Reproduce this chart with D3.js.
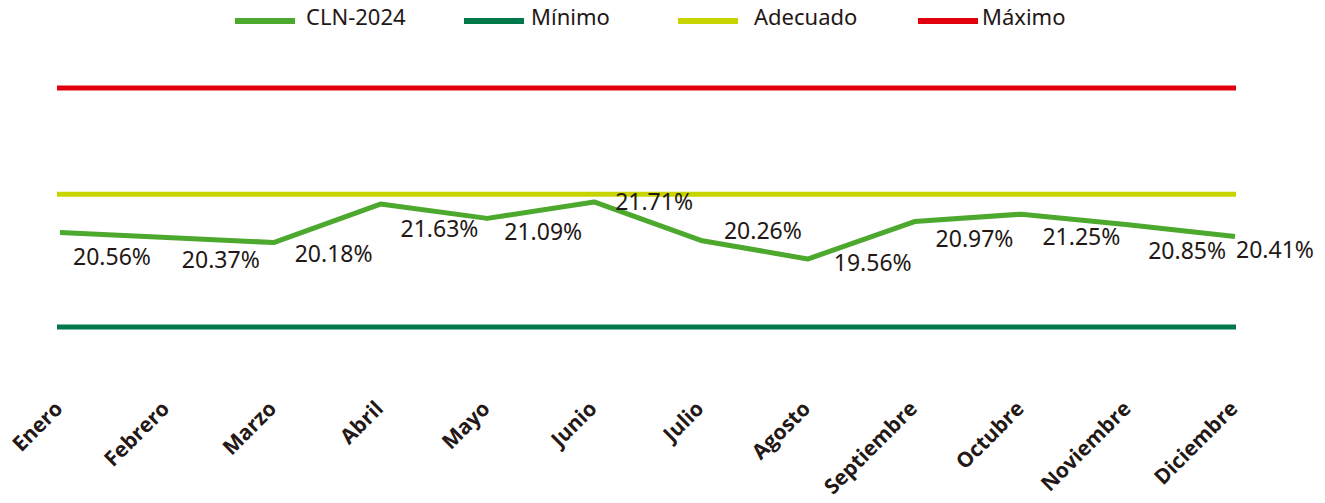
<!DOCTYPE html>
<html>
<head>
<meta charset="utf-8">
<script src="https://cdn.jsdelivr.net/npm/d3@7"></script>
<style>
  body { margin: 0; background: #fff; }
  svg { display: block; }
</style>
</head>
<body>
<script>
// data
var months = ["Enero", "Febrero", "Marzo", "Abril", "Mayo", "Junio", "Julio",
  "Agosto", "Septiembre", "Octubre", "Noviembre", "Diciembre"];
var cln2024 = [20.56, 20.37, 20.18, 21.63, 21.09, 21.71, 20.26, 19.56, 20.97, 21.25, 20.85, 20.41];
var minimo = 17;
var adecuado = 22;
var maximo = 26;

// label nudges (layout only), dx/dy from the point
var labelDx = [52, 54, 60, 59, 56, 60, 62, 65, 60, 60, 59, 40];
var labelDy = [24, 22, 11, 25, 13, 0, -10, 4, 17, 23, 26, 13];

var w = 1325, h = 503;

var svg = d3.select("body").append("svg")
  .attr("width", w)
  .attr("height", h);

var x = d3.scalePoint().domain(months).range([60, 1235]);
var y = d3.scaleLinear().domain([17, 26]).range([327, 88]);

var refs = [
  { name: "Mínimo", value: minimo, color: "#00784a" },
  { name: "Adecuado", value: adecuado, color: "#c8d400" },
  { name: "Máximo", value: maximo, color: "#e2000f" }
];
var serieColor = "#4da82e";

// reference lines
svg.selectAll("line.ref")
  .data(refs)
  .enter()
  .append("line")
  .attr("class", "ref")
  .attr("x1", x(months[0]) - 3)
  .attr("x2", x(months[months.length - 1]) + 1)
  .attr("y1", function(d) { return y(d.value); })
  .attr("y2", function(d) { return y(d.value); })
  .attr("stroke", function(d) { return d.color; })
  .attr("stroke-width", 5);

// series line
var line = d3.line()
  .x(function(d, i) { return x(months[i]); })
  .y(function(d) { return y(d); });

svg.append("path")
  .datum(cln2024)
  .attr("d", line)
  .attr("fill", "none")
  .attr("stroke", serieColor)
  .attr("stroke-width", 5)
  .attr("stroke-linejoin", "round");

// data labels
svg.selectAll("text.val")
  .data(cln2024)
  .enter()
  .append("text")
  .attr("class", "val")
  .attr("x", function(d, i) { return x(months[i]) + labelDx[i]; })
  .attr("y", function(d, i) { return y(d) + labelDy[i]; })
  .attr("dy", "0.36em")
  .attr("text-anchor", "middle")
  .attr("font-family", "Noto Sans")
  .attr("font-size", 23)
  .attr("fill", "#231815")
  .text(function(d) { return d.toFixed(2) + "%"; });

// x axis labels, rotated
svg.selectAll("text.month")
  .data(months)
  .enter()
  .append("text")
  .attr("class", "month")
  .attr("text-anchor", "end")
  .attr("transform", function(d) { return "translate(" + (x(d) + 4) + ",410) rotate(-45)"; })
  .attr("font-family", "Open Sans")
  .attr("font-weight", "bold")
  .attr("font-size", 21)
  .attr("fill", "#231815")
  .text(function(d) { return d; });

// legend
var legendItems = [
  { name: "CLN-2024", color: serieColor, x: 235, tx: 306 },
  { name: "Mínimo", color: refs[0].color, x: 464, tx: 531 },
  { name: "Adecuado", color: refs[1].color, x: 678, tx: 754 },
  { name: "Máximo", color: refs[2].color, x: 918, tx: 982 }
];

var lg = svg.selectAll("g.leg")
  .data(legendItems)
  .enter()
  .append("g")
  .attr("class", "leg");

lg.append("line")
  .attr("x1", function(d) { return d.x; })
  .attr("x2", function(d) { return d.x + 60; })
  .attr("y1", 21)
  .attr("y2", 21)
  .attr("stroke", function(d) { return d.color; })
  .attr("stroke-width", 6);

lg.append("text")
  .attr("x", function(d) { return d.tx; })
  .attr("y", 25)
  .attr("font-family", "Noto Sans")
  .attr("font-size", 22)
  .attr("fill", "#231815")
  .text(function(d) { return d.name; });
</script>
</body>
</html>
